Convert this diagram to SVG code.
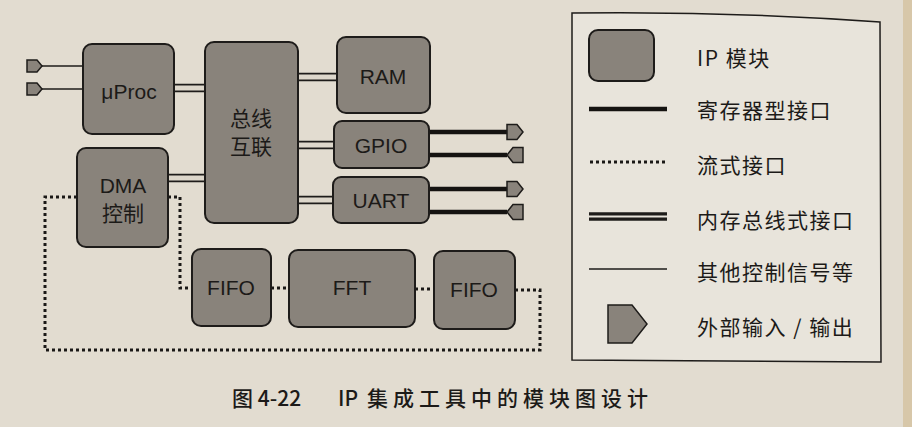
<svg xmlns="http://www.w3.org/2000/svg" width="912" height="427" viewBox="0 0 912 427">
<defs>
<style>
.node{fill:#89837b;stroke:#1e1c1a;stroke-width:2}
.lbl{font-family:"Liberation Sans","Noto Sans CJK SC",sans-serif;font-size:21px;fill:#1c1a18;text-anchor:middle}
.cjk{font-family:"Noto Sans CJK SC","Liberation Sans",sans-serif;font-size:21px;fill:#1c1a18}
.leg{font-family:"Noto Sans CJK SC","Liberation Sans",sans-serif;font-size:21px;fill:#1c1a18;letter-spacing:1.5px}
.cap{font-family:"Noto Sans CJK SC","Liberation Sans",sans-serif;font-size:21px;font-weight:500;fill:#1c1a18}
.pin{fill:#89837b;stroke:#1e1c1a;stroke-width:1.5;stroke-linejoin:miter}
.thick{stroke:#151311;stroke-width:4.5;fill:none}
.thin{stroke:#1e1c1a;stroke-width:1.5;fill:none}
.dbl-o{stroke:#1e1c1a;stroke-width:8.5;fill:none}
.dbl-i{stroke:#ddd7cb;stroke-width:5;fill:none}
.dot{stroke:#1a1816;stroke-width:3;stroke-dasharray:3 3;fill:none}
</style>
<path id="pinIn" d="M0,-6 H10 L15,0 L10,6 H0 Z"/>
<path id="pinR" d="M0,-7.5 H10 L16,0 L10,7.5 H0 Z"/>
<path id="pinL" d="M16,-7.5 H6 L0,0 L6,7.5 H16 Z"/>
</defs>
<rect width="912" height="427" fill="#e2dcd0"/>
<rect x="903" y="0" width="9" height="427" fill="#d7c7a9"/>

<g id="connectors">
<line class="thin" x1="42" y1="66" x2="83" y2="66"/>
<line class="thin" x1="42" y1="89" x2="83" y2="89"/>
<g>
<path class="dbl-o" d="M174,88 H205 M168,178 H205 M298,77 H337 M298,145 H334 M298,200 H333"/>
<path class="dbl-i" d="M174,88 H205 M168,178 H205 M298,77 H337 M298,145 H334 M298,200 H333"/>
</g>
<path class="thick" d="M429,132 H507 M429,155 H507 M429,189 H507 M429,212 H507"/>
<path class="dot" d="M168,197 H180 V288 H192 M271,288 H289 M415,289 H434 M515,290 H540 V350 H45 V197 H77"/>
</g>

<g id="pins">
<use href="#pinIn" class="pin" x="27" y="66"/>
<use href="#pinIn" class="pin" x="27" y="89"/>
<use href="#pinR" class="pin" x="507" y="132"/>
<use href="#pinL" class="pin" x="507" y="155"/>
<use href="#pinR" class="pin" x="507" y="189"/>
<use href="#pinL" class="pin" x="507" y="212"/>
</g>

<g id="uproc"><rect class="node" x="83" y="44" width="91" height="90" rx="9"/><text class="lbl" x="129" y="99" font-size="20">μProc</text></g>
<g id="dma"><rect class="node" x="77" y="148" width="91" height="99" rx="9"/><text class="lbl" x="123" y="193">DMA</text><text class="cjk" x="123" y="221" text-anchor="middle">控制</text></g>
<g id="bus"><rect class="node" x="205" y="42" width="93" height="181" rx="9"/><text class="cjk" x="251" y="126" text-anchor="middle">总线</text><text class="cjk" x="251" y="154" text-anchor="middle">互联</text></g>
<g id="ram"><rect class="node" x="337" y="37" width="93" height="76" rx="9"/><text class="lbl" x="383" y="84" font-size="22">RAM</text></g>
<g id="gpio"><rect class="node" x="334" y="121" width="95" height="47" rx="8"/><text class="lbl" x="381" y="153">GPIO</text></g>
<g id="uart"><rect class="node" x="333" y="177" width="96" height="46" rx="8"/><text class="lbl" x="381" y="208">UART</text></g>
<g id="fifo1"><rect class="node" x="192" y="249" width="79" height="77" rx="9"/><text class="lbl" x="231" y="295">FIFO</text></g>
<g id="fft"><rect class="node" x="289" y="250" width="126" height="77" rx="9"/><text class="lbl" x="352" y="295">FFT</text></g>
<g id="fifo2"><rect class="node" x="434" y="251" width="81" height="78" rx="9"/><text class="lbl" x="474" y="297">FIFO</text></g>

<g id="legend">
<path d="M572,13 Q730,11 880,22 L881,362 L572,360 Z" fill="#e8e4db" stroke="#1e1c1a" stroke-width="1.5"/>
<rect class="node" x="589" y="30" width="65" height="51" rx="9"/>
<text class="leg" x="697" y="66">IP 模块</text>
<line class="thick" x1="589" y1="109" x2="667" y2="109" stroke-width="5"/>
<text class="leg" x="697" y="118">寄存器型接口</text>
<line class="dot" x1="590" y1="162" x2="667" y2="162"/>
<text class="leg" x="697" y="173">流式接口</text>
<line class="dbl-o" x1="589" y1="216.5" x2="667" y2="216.5" stroke-width="7"/>
<line x1="589" y1="216.5" x2="667" y2="216.5" stroke="#e8e4db" stroke-width="2"/>
<text class="leg" x="697" y="228">内存总线式接口</text>
<line class="thin" x1="589" y1="269" x2="667" y2="269"/>
<text class="leg" x="697" y="280">其他控制信号等</text>
<path class="pin" d="M608,305 H632 L647,324 L632,343 H608 Z"/>
<text class="leg" x="697" y="335">外部输入 / 输出</text>
</g>

<g id="caption">
<text class="cap" x="232" y="406">图 4-22</text>
<text class="cap" x="338" y="406">IP</text>
<text class="cap" x="367" y="406" letter-spacing="5">集成工具中的模块图设计</text>
</g>
</svg>
